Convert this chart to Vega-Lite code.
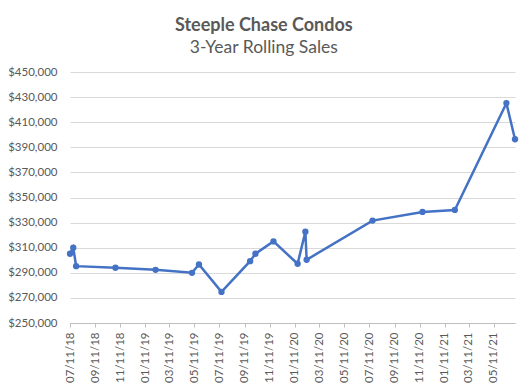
{
  "$schema": "https://vega.github.io/schema/vega-lite/v6.json",
  "width": 445,
  "height": 251,
  "autosize": "none",
  "padding": {"left": 70, "top": 72, "right": 14, "bottom": 62},
  "background": "white",
  "title": {
    "text": "Steeple Chase Condos",
    "subtitle": "3-Year Rolling Sales",
    "anchor": "middle",
    "frame": "bounds",
    "font": "Lato",
    "fontSize": 18,
    "fontWeight": "bold",
    "color": "#595959",
    "subtitleFont": "Lato",
    "subtitleFontSize": 17.5,
    "subtitleFontWeight": "normal",
    "subtitleColor": "#595959",
    "subtitlePadding": 4,
    "offset": 10
  },
  "config": {
    "view": {"stroke": null},
    "axis": {"labelFont": "Lato", "labelColor": "#595959", "labelFontSize": 11.5}
  },
  "data": {
    "values": [
      {"date": "2018-07-11", "price": 305200},
      {"date": "2018-07-19", "price": 310000},
      {"date": "2018-07-26", "price": 295300},
      {"date": "2018-10-30", "price": 294000},
      {"date": "2019-02-05", "price": 292400},
      {"date": "2019-05-05", "price": 290000},
      {"date": "2019-05-22", "price": 296600},
      {"date": "2019-07-16", "price": 274800},
      {"date": "2019-09-24", "price": 299300},
      {"date": "2019-10-07", "price": 305200},
      {"date": "2019-11-20", "price": 315000},
      {"date": "2020-01-18", "price": 297200},
      {"date": "2020-02-06", "price": 322800},
      {"date": "2020-02-09", "price": 300400},
      {"date": "2020-07-19", "price": 331600},
      {"date": "2020-11-18", "price": 338500},
      {"date": "2021-02-05", "price": 340100},
      {"date": "2021-06-11", "price": 425200},
      {"date": "2021-07-02", "price": 396400}
    ]
  },
  "mark": {
    "type": "line",
    "color": "#4472C4",
    "strokeWidth": 2.5,
    "point": {"filled": true, "size": 40, "color": "#4472C4"}
  },
  "encoding": {
    "x": {
      "field": "date",
      "type": "temporal",
      "scale": {
        "type": "utc",
        "domain": [
          {"year": 2018, "month": 7, "date": 11, "utc": true},
          {"year": 2021, "month": 7, "date": 2, "utc": true}
        ]
      },
      "axis": {
        "title": null,
        "values": [
          {"year": 2018, "month": 7, "date": 11, "utc": true},
          {"year": 2018, "month": 9, "date": 11, "utc": true},
          {"year": 2018, "month": 11, "date": 11, "utc": true},
          {"year": 2019, "month": 1, "date": 11, "utc": true},
          {"year": 2019, "month": 3, "date": 11, "utc": true},
          {"year": 2019, "month": 5, "date": 11, "utc": true},
          {"year": 2019, "month": 7, "date": 11, "utc": true},
          {"year": 2019, "month": 9, "date": 11, "utc": true},
          {"year": 2019, "month": 11, "date": 11, "utc": true},
          {"year": 2020, "month": 1, "date": 11, "utc": true},
          {"year": 2020, "month": 3, "date": 11, "utc": true},
          {"year": 2020, "month": 5, "date": 11, "utc": true},
          {"year": 2020, "month": 7, "date": 11, "utc": true},
          {"year": 2020, "month": 9, "date": 11, "utc": true},
          {"year": 2020, "month": 11, "date": 11, "utc": true},
          {"year": 2021, "month": 1, "date": 11, "utc": true},
          {"year": 2021, "month": 3, "date": 11, "utc": true},
          {"year": 2021, "month": 5, "date": 11, "utc": true}
        ],
        "labelExpr": "utcFormat(datum.value, '%m/%d/%y')",
        "labelAngle": -90,
        "labelPadding": 5,
        "grid": false,
        "domainColor": "#bfbfbf",
        "tickColor": "#bfbfbf",
        "tickSize": 4,
        "labelOverlap": false,
        "labelFlush": false
      }
    },
    "y": {
      "field": "price",
      "type": "quantitative",
      "scale": {"domain": [250000, 450000], "nice": false, "zero": false},
      "axis": {
        "title": null,
        "values": [250000, 270000, 290000, 310000, 330000, 350000, 370000, 390000, 410000, 430000, 450000],
        "format": "$,.0f",
        "domain": false,
        "ticks": false,
        "labelPadding": 13,
        "gridColor": "#d9d9d9",
        "gridWidth": 1
      }
    }
  }
}
